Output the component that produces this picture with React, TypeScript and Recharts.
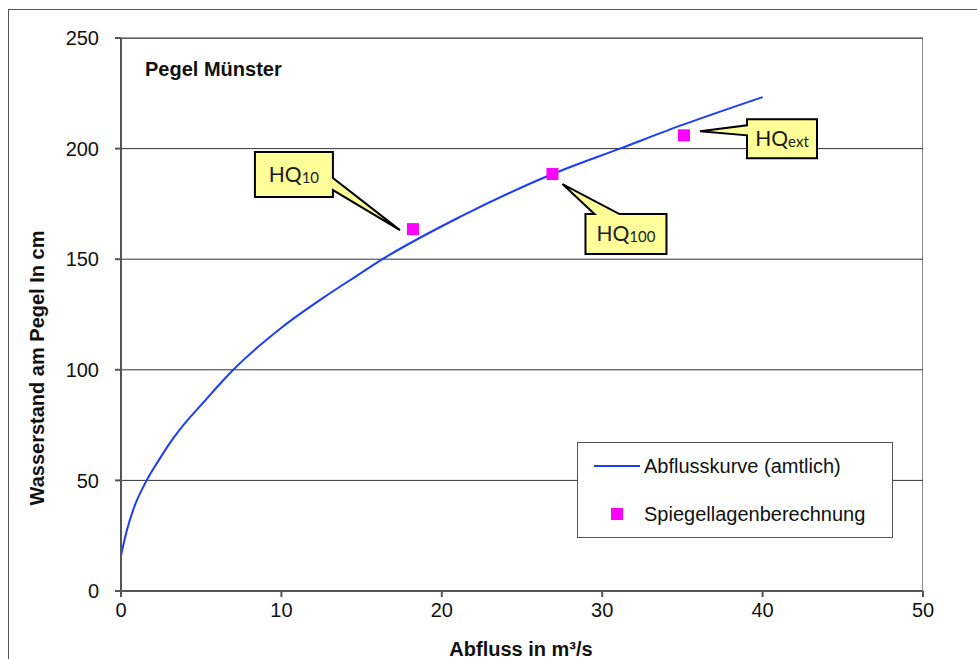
import { ComposedChart, Line, Scatter, XAxis, YAxis, CartesianGrid, Legend } from 'recharts';

// Abflusskurve (amtlich): Abfluss in m³/s -> Wasserstand in cm
const curveQ = [0, 0.35, 0.75, 1.6, 2.3, 3.25, 5.35, 7, 10, 12.6, 14.7, 16.3, 21.1, 26.9, 31.1, 35, 40];
const curveW = [16, 27, 36.5, 50, 58.5, 69, 87, 100, 119, 132.5, 142.5, 150, 169, 188.5, 200, 210.7, 223.3];

// Spiegellagenberechnung
const calcNames = ['10', '100', 'ext'];
const calcQ = [18.2, 26.9, 35.1];
const calcW = [163.6, 188.5, 206];

const xTicks = [0, 10, 20, 30, 40, 50];
const yTicks = [0, 50, 100, 150, 200, 250];

const curveData = curveQ.map((q, i) => ({ q, w: curveW[i] }));
const calcData = calcQ.map((q, i) => ({ q, w: calcW[i], sub: calcNames[i] }));

const FONT = '"Liberation Sans", Arial, sans-serif';

// callout outline, as pixel offsets from the marker centre
const callouts: Record<string, { pts: number[][]; tx: number; ty: number }> = {
  '10': {
    pts: [[-158, -77], [-80, -77], [-80, -51], [-13, 1], [-80, -39], [-80, -32], [-158, -32]],
    tx: -119,
    ty: -54.5,
  },
  '100': {
    pts: [[33, 40], [42, 40], [10, 10], [67, 40], [114, 40], [114, 80], [33, 80]],
    tx: 73.5,
    ty: 60,
  },
  ext: {
    pts: [[63, -16], [133, -16], [133, 23], [63, 23], [63, 0], [16, -4], [63, -10]],
    tx: 98,
    ty: 3.5,
  },
};

function CalcMarker(props: any) {
  const { cx, cy, payload } = props;
  const c = callouts[payload.sub];
  const d = c.pts.map(([dx, dy], i) => `${i ? 'L' : 'M'}${cx + dx},${cy + dy}`).join(' ') + ' Z';
  return (
    <g>
      <path d={d} fill="#FFFF99" stroke="#000" strokeWidth={2} />
      <text x={cx + c.tx} y={cy + c.ty + 7} textAnchor="middle" fontFamily="Lato, sans-serif" fill="#1a1a1a">
        <tspan fontSize={21}>HQ</tspan>
        <tspan fontSize={15} dy={1}>{payload.sub}</tspan>
      </text>
      <rect x={cx - 6} y={cy - 6} width={12} height={12} fill="#FF00FF" />
    </g>
  );
}

function LegendBox() {
  return (
    <div
      style={{
        width: 316,
        height: 96,
        boxSizing: 'border-box',
        border: '1px solid #555',
        background: '#fff',
        position: 'relative',
        fontFamily: FONT,
        fontSize: 20,
        color: '#111',
      }}
    >
      <div style={{ position: 'absolute', left: 16, top: 22, width: 46, height: 2, background: '#1a3cff' }} />
      <div style={{ position: 'absolute', left: 66, top: 10, lineHeight: '26px', whiteSpace: 'nowrap' }}>
        Abflusskurve (amtlich)
      </div>
      <div style={{ position: 'absolute', left: 33, top: 65, width: 12, height: 12, background: '#FF00FF' }} />
      <div style={{ position: 'absolute', left: 66, top: 58, lineHeight: '26px', whiteSpace: 'nowrap' }}>
        Spiegellagenberechnung
      </div>
    </div>
  );
}

export default function App() {
  return (
    <div style={{ position: 'absolute', left: 0, top: 0, width: 977, height: 659, background: '#fff', overflow: 'hidden' }}>
      {/* outer chart frame */}
      <div style={{ position: 'absolute', left: 8, top: 9, width: 980, height: 660, borderTop: '1px solid #555', borderLeft: '1px solid #555' }} />
      {/* plot area border */}
      <div style={{ position: 'absolute', left: 121, top: 38, width: 802, height: 553, boxSizing: 'border-box', border: '1px solid #8a8a8a' }} />
      <div style={{ position: 'absolute', left: 145, top: 58, fontFamily: FONT, fontWeight: 'bold', fontSize: 20, color: '#111' }}>
        Pegel Münster
      </div>
      <ComposedChart width={977} height={659} margin={{ top: 38, right: 54, bottom: 0, left: 0 }} style={{ position: 'absolute', left: 0, top: 0 }}>
        <CartesianGrid horizontal vertical={false} stroke="#333" />
        <XAxis
          type="number"
          dataKey="q"
          domain={[0, 50]}
          ticks={xTicks}
          height={68}
          stroke="#555"
          strokeWidth={2}
          tickSize={6}
          tickMargin={6}
          tick={{ fill: '#111', fontSize: 20, fontFamily: FONT }}
          label={{
            content: () => (
              <text x={521} y={656} textAnchor="middle" fontFamily={FONT} fontWeight="bold" fontSize={20} fill="#111">
                Abfluss in m³/s
              </text>
            ),
          }}
        />
        <YAxis
          type="number"
          dataKey="w"
          domain={[0, 250]}
          ticks={yTicks}
          width={121}
          stroke="#555"
          strokeWidth={2}
          tickSize={6}
          tickMargin={16}
          tick={{ fill: '#111', fontSize: 20, fontFamily: FONT }}
          label={{
            content: () => (
              <text
                transform="translate(44,368) rotate(-90)"
                textAnchor="middle"
                fontFamily={FONT}
                fontWeight="bold"
                fontSize={20}
                fill="#111"
              >
                Wasserstand am Pegel In cm
              </text>
            ),
          }}
        />
        <Legend
          layout="horizontal"
          verticalAlign="middle"
          content={() => <LegendBox />}
          wrapperStyle={{ position: 'absolute', left: 577, top: 442, width: 316, height: 96 }}
        />
        <Line
          data={curveData}
          dataKey="w"
          type="monotone"
          stroke="#1a3cff"
          strokeWidth={2}
          dot={false}
          isAnimationActive={false}
        />
        <Scatter data={calcData} dataKey="w" shape={CalcMarker} isAnimationActive={false} />
      </ComposedChart>
    </div>
  );
}
